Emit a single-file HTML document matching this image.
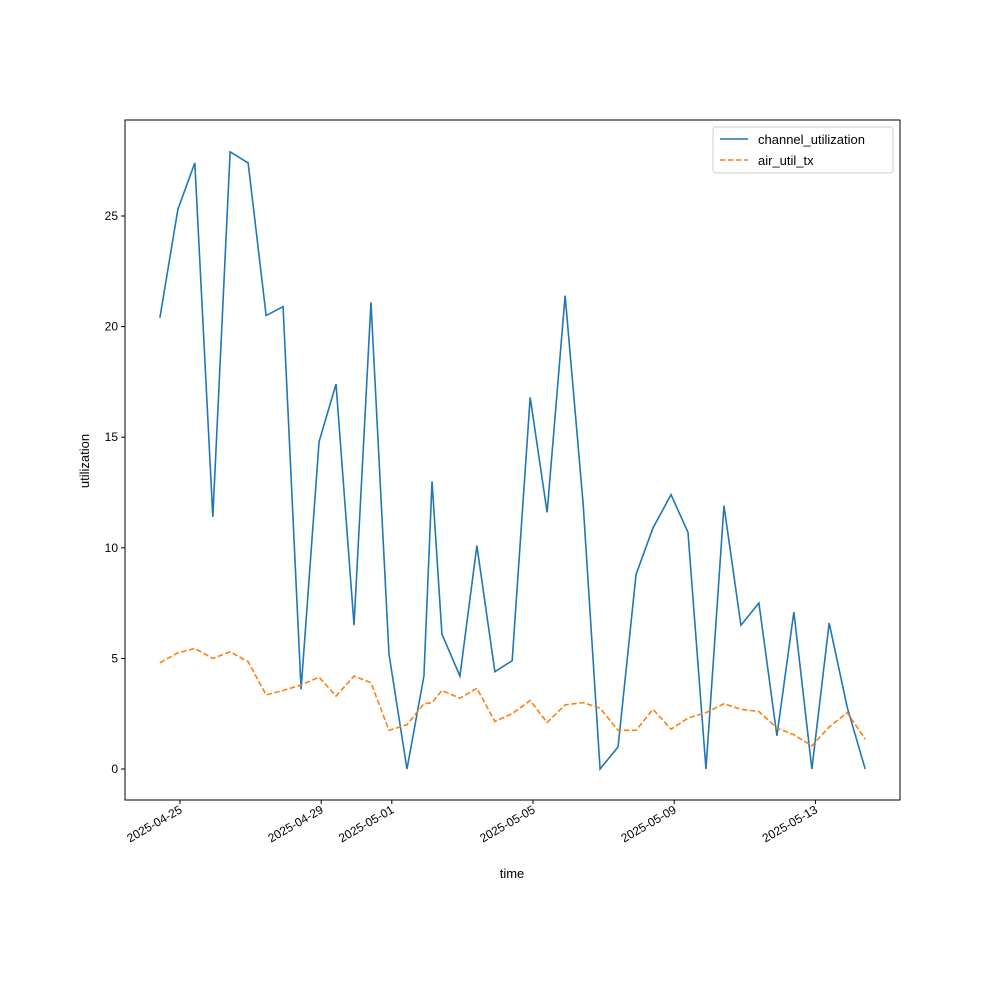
<!DOCTYPE html>
<html><head><meta charset="utf-8"><style>body{margin:0;background:#fff}svg{display:block;font-family:"Liberation Sans","DejaVu Sans",sans-serif}</style></head>
<body>
<svg id="chart" width="1000" height="1000" viewBox="0 0 1000 1000"></svg>
<script>
// day offsets from 2025-04-25 00:00
const times=[-0.57,-0.06,0.42,0.93,1.42,1.93,2.44,2.92,3.43,3.94,4.42,4.93,5.41,5.92,6.43,6.91,7.14,7.42,7.93,8.41,8.92,9.41,9.92,10.40,10.91,11.42,11.90,12.41,12.92,13.40,13.91,14.39,14.90,15.41,15.89,16.40,16.91,17.39,17.90,18.39,18.90,19.41];
const channelUtil=[20.4,25.3,27.4,11.4,27.9,27.4,20.5,20.9,3.6,14.8,17.4,6.5,21.1,5.2,0.0,4.2,13.0,6.1,4.2,10.1,4.4,4.9,16.8,11.6,21.4,12.0,0.0,1.0,8.8,10.9,12.4,10.7,0.0,11.9,6.5,7.5,1.5,7.1,0.0,6.6,2.8,0.0];
const airUtilTx=[4.8,5.25,5.45,5.0,5.3,4.85,3.35,3.55,3.8,4.15,3.3,4.2,3.9,1.75,2.0,2.95,3.0,3.55,3.2,3.65,2.15,2.5,3.1,2.1,2.9,3.0,2.75,1.75,1.75,2.7,1.8,2.3,2.55,2.95,2.7,2.6,1.85,1.55,1.05,1.9,2.55,1.35];
const xTickDays=[0,4,6,10,14,18];
const xTickLabels=["2025-04-25","2025-04-29","2025-05-01","2025-05-05","2025-05-09","2025-05-13"];
const yTicks=[0,5,10,15,20,25];

const NS="http://www.w3.org/2000/svg";
const svg=document.getElementById('chart');
const L=125,R=900,T=120,B=800;
const xs=d=>180+d*35.3;
const ys=v=>769-v*22.12;
function mk(tag,attrs,parent){const e=document.createElementNS(NS,tag);for(const k in attrs)e.setAttribute(k,attrs[k]);(parent||svg).appendChild(e);return e;}

const frame=mk('rect',{x:L,y:T,width:R-L,height:B-T,fill:'none',stroke:'#000','stroke-width':1});



yTicks.forEach(v=>{const y=ys(v);
 const t=mk('line',{x1:L-4,x2:L,y1:y,y2:y,stroke:'#000'});
 
 
 const tx=mk('text',{x:L-7,y:y+4,'text-anchor':'end','font-size':12});tx.textContent=v;
 
 
});
xTickDays.forEach((d,i)=>{const x=xs(d);
 const t=mk('line',{x1:x,x2:x,y1:B,y2:B+4,stroke:'#000'});
 
 
 const tx=mk('text',{x:x+3,y:B+12,'text-anchor':'end','font-size':12,transform:`rotate(-30 ${x+3} ${B+12})`});tx.textContent=xTickLabels[i];
 
 
});
const xt=mk('text',{x:512,y:878,'text-anchor':'middle','font-size':13});xt.textContent='time';


const yt=mk('text',{x:89,y:461,'text-anchor':'middle','font-size':13,transform:'rotate(-90 89 461)'});yt.textContent='utilization';



function series(vals,color,dash,name){
 const p=mk('polyline',{points:vals.map((v,i)=>xs(times[i])+','+ys(v)).join(' '),fill:'none',stroke:color,'stroke-width':1.6,'stroke-dasharray':dash});
 
 
}
series(channelUtil,'#1f77b4','none','channel-utilization-line');
series(airUtilTx,'#ff7f0e','5.5,2.5','air-util-tx-line');

const lg=mk('g',{});


mk('rect',{x:713,y:127,width:180,height:46,fill:'#fff',stroke:'#ccc',rx:3},lg);
mk('line',{x1:720,x2:748,y1:139,y2:139,stroke:'#1f77b4','stroke-width':1.6},lg);
mk('line',{x1:720,x2:748,y1:160,y2:160,stroke:'#ff7f0e','stroke-width':1.6,'stroke-dasharray':'5.5,2.5'},lg);
const l1=mk('text',{x:758,y:144,'font-size':13},lg);l1.textContent='channel_utilization';


const l2=mk('text',{x:758,y:165,'font-size':13},lg);l2.textContent='air_util_tx';


</script>
</body></html>
